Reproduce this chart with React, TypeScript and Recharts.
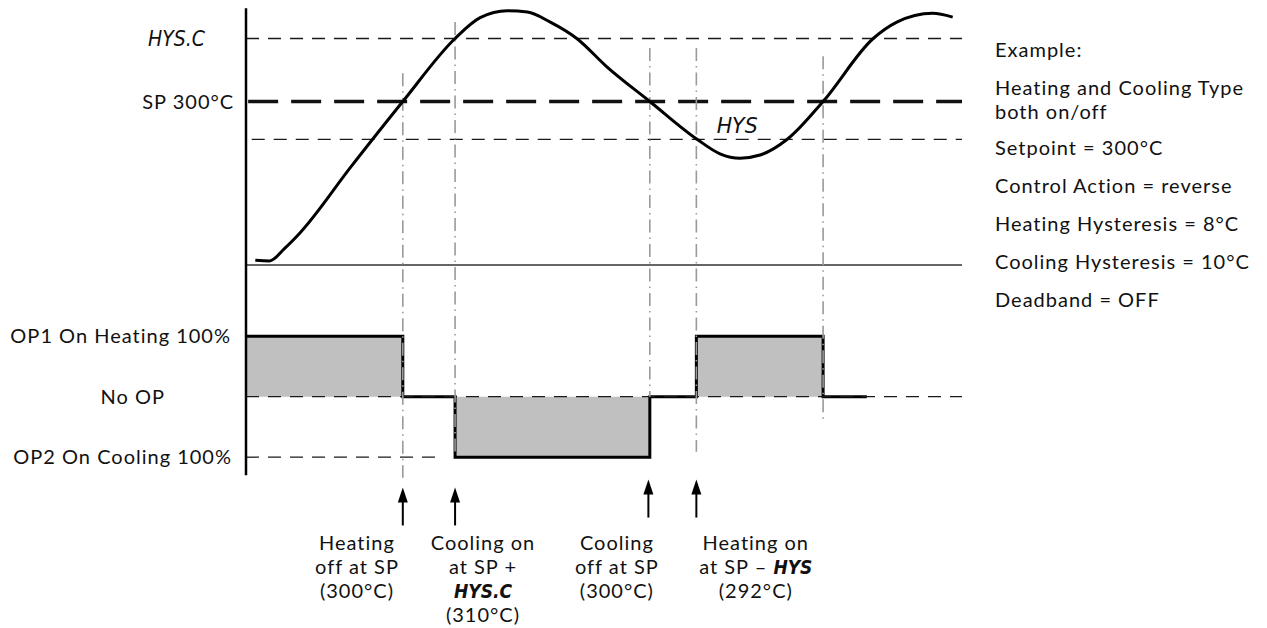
import React from 'react';
import { ComposedChart, Line, Area, XAxis, YAxis, ReferenceLine, ReferenceDot } from 'recharts';

// ---------- data ----------
// time axis is in arbitrary units 0..100
const temperatureTimes = [1.3, 3.3, 5.4, 7.5, 14.7, 21.9, 29.2, 32.7, 36.5, 39.3, 42.5, 46.2, 50.4, 56.4, 63.0, 66.2, 69.0, 71.8, 75.6, 80.6, 87.6, 90.9, 95.9, 98.7];
const temperatureValues = [274.8, 274.7, 276.7, 279.1, 289.7, 300, 310, 313.3, 314.4, 314.2, 312.6, 310, 305.5, 300, 294, 291.7, 291.0, 291.5, 294, 300, 310, 312.6, 314.0, 313.4];

const outputTimes = [0, 21.9, 29.2, 56.4, 62.9, 80.6, 86.7];
const outputValues = [100, 0, -100, 0, 100, 0, 0];

const setpoint = 300;
const coolingOnLevel = 310; // SP + HYS.C
const heatingOnLevel = 294; // SP - HYS (schematic)
const separatorLevel = 274.05;

const tempTickValues = [coolingOnLevel, setpoint];
const tempTickLabels = ['HYS.C', 'SP 300°C'];

const opLevels = [100, 0, -100];
const opLevelLabels = ['OP1 On Heating 100%', 'No OP', 'OP2 On Cooling 100%'];

const eventTimes = [21.9, 29.2, 56.4, 62.9, 80.6];
const eventTopTemps = [304.5, 312.6, 308.5, 308.5, 307.2];
const eventBottomOps = [-134, -98, 0, -91, -38];

const arrowTimes = [21.9, 29.2, 56.2, 62.9];
const arrowTipOps = [-150, -150, -137, -137];

const noteTimes = [15.5, 33.1, 51.8, 71.2];
const noteBaselineOp = -254;
const noteLines = [
  ['Heating', 'off at SP', '(300°C)'],
  ['Cooling on', 'at SP +', '[HYS.C]', '(310°C)'],
  ['Cooling', 'off at SP', '(300°C)'],
  ['Heating on', 'at SP – [HYS]', '(292°C)'],
];

const hysLabelTime = 68.6;
const hysLabelTemp = 296.3;

const exampleParagraphs = [
  ['Example:'],
  ['Heating and Cooling Type', 'both on/off'],
  ['Setpoint = 300°C'],
  ['Control Action = reverse'],
  ['Heating Hysteresis = 8°C'],
  ['Cooling Hysteresis = 10°C'],
  ['Deadband = OFF'],
];

// ---------- layout ----------
const FONT = "Lato, 'Open Sans', sans-serif";
const SEG = "'DejaVu Sans Condensed', 'DejaVu Sans', sans-serif";
const TXT = '#111';
const FS = 20;
const LS = 1;
const W = 1267;
const H = 628;
const PX = { top: 7, bottom: 628, left: 246, right: 962, opZero: 396.7 };
const PX_PER_DEG = 6.3;
const PX_PER_PCT = 0.605;
const TEMP_MAX = 315;
const tempDomain: [number, number] = [TEMP_MAX - (PX.bottom - PX.top) / PX_PER_DEG, TEMP_MAX];
const opDomain: [number, number] = [-(PX.bottom - PX.opZero) / PX_PER_PCT, (PX.opZero - PX.top) / PX_PER_PCT];
const tempToOp = (t: number) => (PX.opZero - (PX.top + (TEMP_MAX - t) * PX_PER_DEG)) / PX_PER_PCT;

const temperatureData = temperatureTimes.map((t, i) => ({ t, temp: temperatureValues[i] }));
const outputData = outputTimes.map((t, i) => ({ t, op: outputValues[i] }));

const THIN_DASH = { stroke: '#1a1a1a', strokeWidth: 1.3, strokeDasharray: '13 9' };
const EVENT_STYLE = { stroke: '#9a9a9a', strokeWidth: 1.6, strokeDasharray: '13 5 1.5 5' };

const rich = (line: string) =>
  line
    .split(/(\[[^\]]+\])/)
    .filter(Boolean)
    .map((p, i) =>
      p.startsWith('[') ? (
        <tspan key={i} fontFamily={SEG} fontStyle="italic" fontWeight="bold" fontSize={19} letterSpacing={0}>
          {p.slice(1, -1)}
        </tspan>
      ) : (
        <tspan key={i}>{p}</tspan>
      )
    );

const leftLabel = (text: string, offset: number, seg = false) => (props: any) => {
  const vb = props.viewBox || {};
  if (seg) {
    return (
      <text x={vb.x - offset} y={vb.y} dy="0.36em" textAnchor="end" fontFamily={SEG} fontStyle="italic" fontSize={22} fill={TXT} textLength={57} lengthAdjust="spacingAndGlyphs">
        {text}
      </text>
    );
  }
  return (
    <text x={vb.x - offset} y={vb.y} dy="0.36em" textAnchor="end" fontFamily={FONT} fontSize={FS} letterSpacing={LS} fill={TXT}>
      {text}
    </text>
  );
};

const ArrowShape = (props: any) => {
  const { cx, cy } = props;
  return (
    <g>
      <line x1={cx} y1={cy + 10} x2={cx} y2={cy + 38} stroke="#000" strokeWidth={2} />
      <polygon points={`${cx},${cy} ${cx - 5},${cy + 15} ${cx + 5},${cy + 15}`} fill="#000" />
    </g>
  );
};

const noteShape = (lines: string[]) => (props: any) => {
  const { cx, cy } = props;
  return (
    <text textAnchor="middle" fontFamily={FONT} fontSize={FS} letterSpacing={LS} fill={TXT}>
      {lines.map((ln, i) => (
        <tspan key={i} x={cx} y={cy + i * 24}>
          {rich(ln)}
        </tspan>
      ))}
    </text>
  );
};

const HysShape = (props: any) => {
  const { cx, cy } = props;
  return (
    <text x={cx} y={cy} dy="0.36em" textAnchor="middle" fontFamily={SEG} fontStyle="italic" fontSize={22} fill={TXT} textLength={41} lengthAdjust="spacingAndGlyphs">
      HYS
    </text>
  );
};

const exampleCenters = [49, 87, 111, 147, 185, 223, 261, 299];

export default function App() {
  let lineIdx = 0;
  return (
    <div style={{ position: 'absolute', left: 0, top: 0, width: W, height: H, background: '#fff' }}>
      <ComposedChart width={W} height={H} margin={{ top: PX.top, right: W - PX.right, bottom: H - PX.bottom, left: PX.left }}>
        <XAxis type="number" dataKey="t" domain={[0, 100]} allowDataOverflow hide />
        <YAxis yAxisId="temp" type="number" domain={tempDomain} allowDataOverflow hide />
        <YAxis yAxisId="op" type="number" domain={opDomain} allowDataOverflow hide />

        {/* temperature reference levels */}
        <ReferenceLine yAxisId="temp" y={tempTickValues[0]} {...THIN_DASH} label={leftLabel(tempTickLabels[0], 41, true)} />
        <ReferenceLine yAxisId="temp" segment={[{ x: 0.3, y: setpoint }, { x: 100, y: setpoint }]} stroke="#111" strokeWidth={3.5} strokeDasharray="30 13" label={leftLabel(tempTickLabels[1], 14)} />
        <ReferenceLine yAxisId="temp" segment={[{ x: 0.8, y: heatingOnLevel }, { x: 100, y: heatingOnLevel }]} {...THIN_DASH} />
        <ReferenceLine yAxisId="temp" y={separatorLevel} stroke="#333" strokeWidth={1.6} />

        {/* output levels */}
        <ReferenceLine yAxisId="op" y={opLevels[0]} stroke="none" label={leftLabel(opLevelLabels[0], 15)} />
        <ReferenceLine yAxisId="op" y={opLevels[1]} {...THIN_DASH} label={leftLabel(opLevelLabels[1], 81)} />
        <ReferenceLine yAxisId="op" segment={[{ x: 0, y: opLevels[2] }, { x: 26.7, y: opLevels[2] }]} {...THIN_DASH} label={leftLabel(opLevelLabels[2], 14)} />

        <Area yAxisId="op" data={outputData} dataKey="op" type="stepAfter" baseValue={0} fill="#c0c0c0" fillOpacity={1} stroke="#000" strokeWidth={3} isAnimationActive={false} dot={false} activeDot={false} />

        {/* event markers */}
        {eventTimes.map((t, i) => (
          <ReferenceLine key={'ev' + i} yAxisId="op" segment={[{ x: t, y: tempToOp(eventTopTemps[i]) }, { x: t, y: eventBottomOps[i] }]} {...EVENT_STYLE} />
        ))}

        {/* vertical axis */}
        <ReferenceLine yAxisId="op" segment={[{ x: 0, y: tempToOp(314.8) }, { x: 0, y: -130 }]} stroke="#000" strokeWidth={2.5} />

        <Line yAxisId="temp" data={temperatureData} dataKey="temp" type="monotone" stroke="#000" strokeWidth={3} dot={false} activeDot={false} isAnimationActive={false} />

        <ReferenceDot yAxisId="temp" x={hysLabelTime} y={hysLabelTemp} r={0} shape={HysShape} />

        {arrowTimes.map((t, i) => (
          <ReferenceDot key={'ar' + i} yAxisId="op" x={t} y={arrowTipOps[i]} r={0} shape={ArrowShape} />
        ))}
        {noteTimes.map((t, i) => (
          <ReferenceDot key={'nt' + i} yAxisId="op" x={t} y={noteBaselineOp} r={0} shape={noteShape(noteLines[i])} />
        ))}
      </ComposedChart>

      {exampleParagraphs.map((para, pi) =>
        para.map((line, li) => {
          const c = exampleCenters[lineIdx++];
          return (
            <div key={pi + '-' + li} style={{ position: 'absolute', left: 995, top: c - 12, fontFamily: FONT, fontSize: FS, letterSpacing: LS + 'px', lineHeight: '24px', color: TXT, whiteSpace: 'nowrap' }}>
              {line}
            </div>
          );
        })
      )}
    </div>
  );
}
